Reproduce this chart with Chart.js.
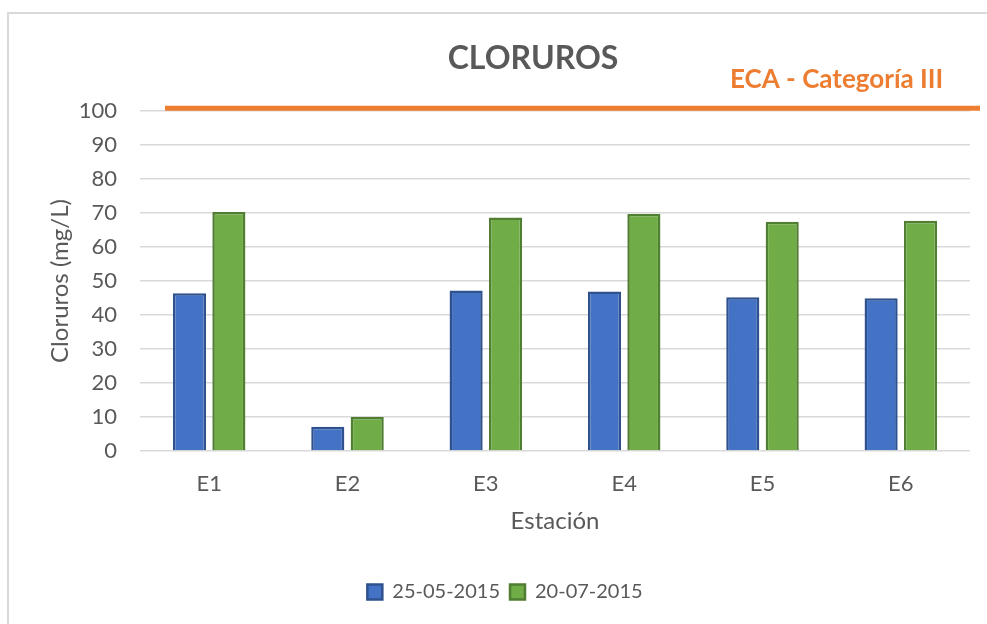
<!DOCTYPE html>
<html>
<head>
<meta charset="utf-8">
<script src="https://cdn.jsdelivr.net/npm/chart.js@4.4.1/dist/chart.umd.min.js"></script>
<style>
  html, body { margin: 0; padding: 0; background: #ffffff; }
  #wrap { position: relative; width: 987px; height: 624px; overflow: hidden; }
  #frame { position: absolute; left: 7px; top: 12px; width: 1000px; height: 700px;
           border-left: 2px solid #d9d9d9; border-top: 2px solid #d9d9d9; }
  canvas { position: absolute; left: 0; top: 0; }
</style>
</head>
<body>
<div id="wrap">
  <div id="frame"></div>
  <canvas id="cloruros" width="987" height="624"></canvas>
</div>
<script>
// estaciones de muestreo y resultados de cloruros (mg/L)
const estaciones = ['E1', 'E2', 'E3', 'E4', 'E5', 'E6'];
const muestreo1 = [46.4, 7.1, 47.2, 46.9, 45.2, 44.9];   // 25-05-2015
const muestreo2 = [70.3, 10.0, 68.7, 69.7, 67.4, 67.7];  // 20-07-2015
const fechas = ['25-05-2015', '20-07-2015'];
const limiteECA = 100.8;
const etiquetaECA = 'ECA - Categoría III';

const gris = '#595959';
const fuente = 'Lato, "Open Sans", sans-serif';

// linea del ECA y textos superiores
const ecaPlugin = {
    id: 'ecaLine',
    afterDatasetsDraw(chart) {
        const { ctx, chartArea, scales } = chart;
        const y = scales.y.getPixelForValue(limiteECA);
        ctx.save();
        ctx.strokeStyle = '#ED7D31';
        ctx.lineWidth = 5;
        ctx.beginPath();
        ctx.moveTo(chartArea.left + 25, y);
        ctx.lineTo(chartArea.right + 10, y);
        ctx.stroke();

        ctx.fillStyle = '#ED7D31';
        ctx.font = 'bold 26px ' + fuente;
        ctx.textAlign = 'left';
        ctx.textBaseline = 'alphabetic';
        ctx.fillText(etiquetaECA, 730, 88);

        ctx.fillStyle = gris;
        ctx.font = 'bold 32px ' + fuente;
        ctx.textAlign = 'center';
        ctx.fillText('CLORUROS', 533, 69);
        ctx.restore();
    }
};

const canvas = document.getElementById('cloruros');
new Chart(canvas, {
    type: 'bar',
    data: {
        labels: estaciones,
        datasets: [
            {
                label: fechas[0],
                data: muestreo1,
                backgroundColor: '#4472C4',
                borderColor: '#2F528F',
                borderWidth: 2.5
            },
            {
                label: fechas[1],
                data: muestreo2,
                backgroundColor: '#70AD47',
                borderColor: '#507E32',
                borderWidth: 2.5
            }
        ]
    },
    options: {
        responsive: false,
        animation: false,
        categoryPercentage: 0.57,
        barPercentage: 0.84,
        layout: { padding: { left: 40, right: 17, top: 111, bottom: 12 } },
        plugins: {
            tooltip: { enabled: false },
            legend: {
                position: 'bottom',
                labels: {
                    color: gris,
                    font: { family: fuente, size: 20 },
                    boxWidth: 15,
                    boxHeight: 15,
                    padding: 10
                }
            }
        },
        scales: {
            x: {
                grid: { display: false, drawTicks: false },
                border: { display: false },
                ticks: { color: gris, font: { family: fuente, size: 22 }, padding: 20 },
                title: {
                    display: true,
                    text: 'Estación',
                    color: gris,
                    font: { family: fuente, size: 24 },
                    padding: { top: 0, bottom: 36 }
                },
                afterFit(scale) { scale.height = 121; }
            },
            y: {
                min: 0,
                max: 100,
                ticks: { stepSize: 10, color: gris, font: { family: fuente, size: 22 }, padding: 23 },
                grid: { color: '#d9d9d9', lineWidth: 1.5, drawTicks: false },
                border: { display: false },
                title: {
                    display: true,
                    text: 'Cloruros (mg/L)',
                    color: gris,
                    font: { family: fuente, size: 24 },
                    padding: { top: 6, bottom: 0 }
                },
                afterFit(scale) { scale.width = 100; }
            }
        }
    },
    plugins: [ecaPlugin]
});
</script>
</body>
</html>
